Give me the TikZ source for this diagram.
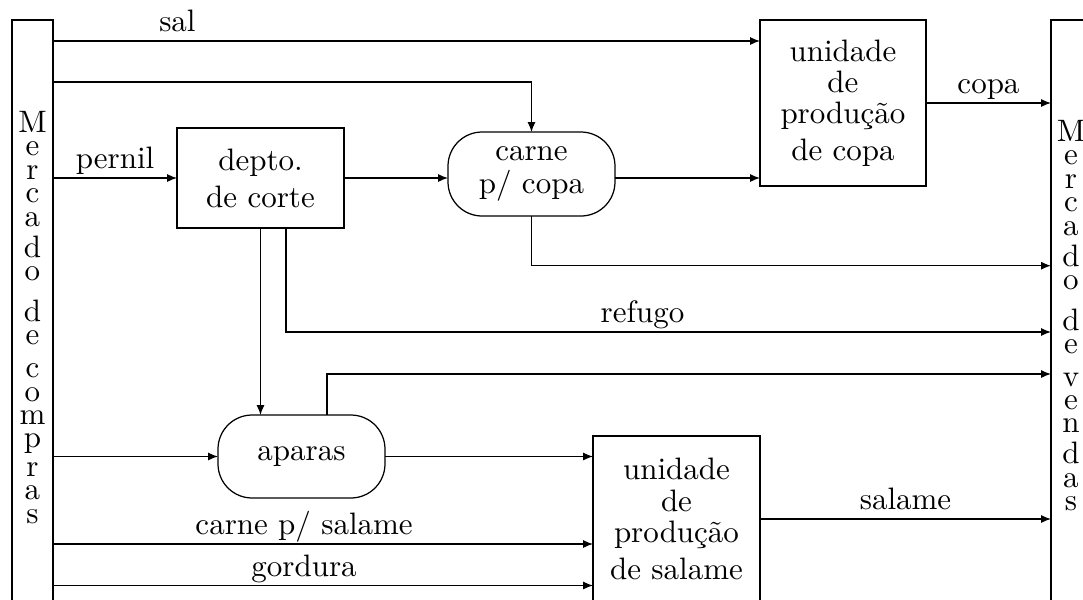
\documentclass[tikz,border=0pt]{standalone}
\usetikzlibrary{arrows.meta}
\tikzset{
  >={Latex[length=3.2pt,width=2.6pt]},
  box/.style={draw, rectangle, inner sep=0pt, outer sep=0pt, align=center},
  pill/.style={draw, rectangle, rounded corners=11pt, inner sep=0pt, outer sep=0pt, align=center},
  market/.style={draw, rectangle, inner sep=0pt, outer sep=0pt, minimum width=13.23pt, minimum height=200pt},
  stacktext/.style={anchor=north, inner sep=0pt},
  lab/.style={anchor=base, yshift=3pt, inner sep=0pt},
}
\begin{document}
\begin{tikzpicture}[x=0.32258pt, y=-0.32258pt]
\useasboundingbox (0,0) rectangle (1083,599);
\clip (0,0) rectangle (1083,599);
% markets
\node[market] (compras) at (32.5,330) {};
\node[market] (vendas) at (1071.5,330) {};
\node[stacktext] (comprastxt) at (32.5,111) {\shortstack{M\\e\\r\\c\\a\\d\\o\\ \\d\\e\\ \\c\\o\\m\\p\\r\\a\\s}};
\node[stacktext] (vendastxt) at (1071,120) {\shortstack{M\\e\\r\\c\\a\\d\\o\\ \\d\\e\\ \\v\\e\\n\\d\\a\\s}};
% process nodes
\node[box, minimum width=53.87pt, minimum height=32.26pt] (depto) at (260.5,178) {\shortstack{depto.\\de corte}};
\node[pill, minimum width=53.87pt, minimum height=27.1pt] (carne) at (531.5,174) {\shortstack{carne\\p/ copa}};
\node[box, minimum width=53.55pt, minimum height=53.55pt] (copa) at (843,103) {\shortstack{unidade\\de\\produção\\de copa}};
\node[pill, minimum width=53.87pt, minimum height=26.77pt] (aparas) at (301.5,456.5) {aparas};
\node[box, minimum width=53.87pt, minimum height=53.55pt] (salame) at (676.5,519) {\shortstack{unidade\\de\\produção\\de salame}};
% levels
\coordinate (ysal) at (0,41);
\coordinate (ytop) at (0,82);
\coordinate (ycarne) at (0,265.7);
\coordinate (yref) at (0,332);
\coordinate (yap) at (0,374);
\coordinate (ycs) at (0,544);
\coordinate (ygord) at (0,585.5);
% connectors
\draw[->] (compras.east |- ysal) -- node[lab, pos=0.176]{sal} (copa.west |- ysal);
\draw[->] (compras.east |- ytop) -| (carne.north);
\draw[->] (compras.east |- depto.west) -- node[lab]{pernil} (depto.west);
\draw[->] (depto.east) -- (carne.west |- depto.east);
\draw[->] (carne.east |- depto.east) -- (copa.west |- depto.east);
\draw[->] (copa.east) -- node[lab]{copa} (vendas.west |- copa.east);
\draw[->] (carne.south) |- (vendas.west |- ycarne);
\draw[->] ([xshift=8.23pt]depto.south) |- node[lab, pos=0.733]{refugo} (vendas.west |- yref);
\draw[->] (depto.south) -- (depto.south |- aparas.north);
\draw[->] ([xshift=8.23pt]aparas.north) |- (vendas.west |- yap);
\draw[->] (compras.east |- aparas.west) -- (aparas.west);
\draw[->] (aparas.east) -- (salame.west |- aparas.east);
\draw[->] (compras.east |- ycs) -- node[lab, pos=0.465]{carne p/ salame} (salame.west |- ycs);
\draw[->] (compras.east |- ygord) -- node[lab, pos=0.465]{gordura} (salame.west |- ygord);
\draw[->] (salame.east) -- node[lab]{salame} (vendas.west |- salame.east);
\end{tikzpicture}
\end{document}
